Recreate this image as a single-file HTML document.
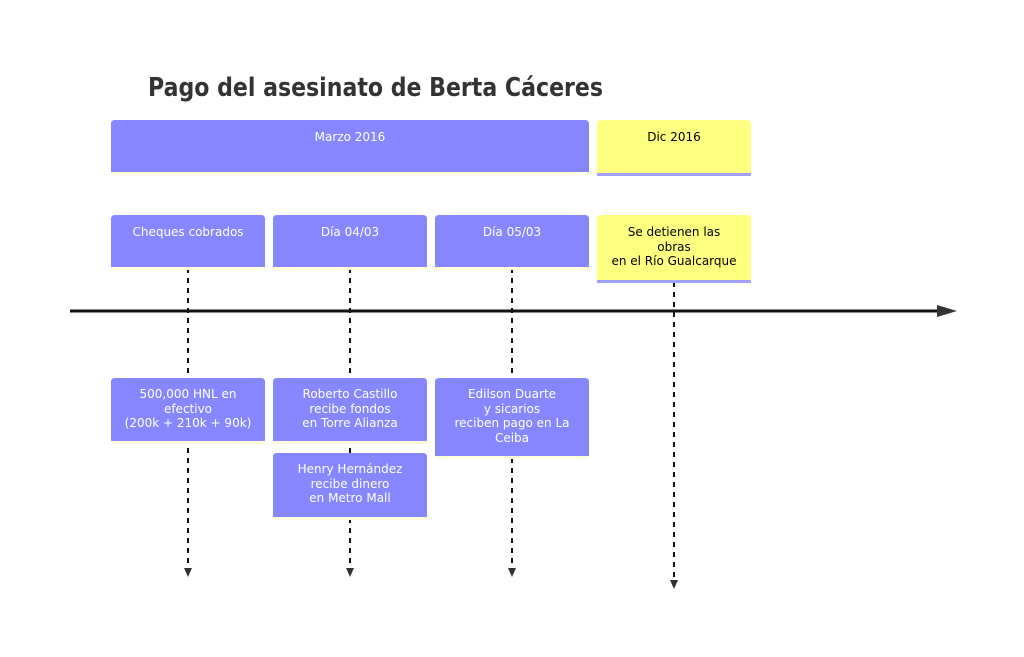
<!DOCTYPE html>
<html><head><meta charset="utf-8"><style>
html,body{margin:0;padding:0;background:#fff;}
svg{display:block;font-family:"DejaVu Sans","Liberation Sans",sans-serif;}
.t{fill:#fff;font-size:12px;text-anchor:middle;font-weight:500;}
.k{fill:#000;font-size:12px;text-anchor:middle;font-weight:500;}
</style></head><body>
<svg width="1024" height="657" viewBox="0 0 1024 657" xmlns="http://www.w3.org/2000/svg">
<text x="148" y="96" textLength="455" lengthAdjust="spacingAndGlyphs" style="font-family:'DejaVu Sans','Liberation Sans',sans-serif;font-weight:bold;font-size:26px;fill:#333">Pago del asesinato de Berta Cáceres</text>

<g stroke="#111" stroke-width="2" stroke-dasharray="5,5" fill="none">
<line x1="188" y1="268" x2="188" y2="570"/>
<line x1="350" y1="268" x2="350" y2="570"/>
<line x1="512" y1="268" x2="512" y2="570"/>
<line x1="674" y1="282" x2="674" y2="582"/>
</g>
<g fill="#333">
<path d="M184,568 L192,568 L188,577 z"/>
<path d="M346,568 L354,568 L350,577 z"/>
<path d="M508,568 L516,568 L512,577 z"/>
<path d="M670,580 L678,580 L674,589 z"/>
</g>

<line x1="70" y1="311" x2="942" y2="311" stroke="#111" stroke-width="3"/>
<path d="M937,305 L957,311 L937,317 z" fill="#333"/>

<path d="M111,173 V124 Q111,120 115,120 H585 Q589,120 589,124 V173 z" fill="#8686ff"/>
<rect x="111" y="172" width="478" height="3" fill="#ffffde"/>
<text class="t" x="350" y="141">Marzo 2016</text>
<path d="M597,174 V124 Q597,120 601,120 H747 Q751,120 751,124 V174 z" fill="#ffff80"/>
<rect x="597" y="173" width="154" height="3" fill="#a0a0ff"/>
<text class="k" x="674" y="141">Dic 2016</text>

<path d="M111,268 V219 Q111,215 115,215 H261 Q265,215 265,219 V268 z" fill="#8686ff"/>
<rect x="111" y="267" width="154" height="3" fill="#ffffde"/>
<text class="t" x="188" y="236">Cheques cobrados</text>
<path d="M273,268 V219 Q273,215 277,215 H423 Q427,215 427,219 V268 z" fill="#8686ff"/>
<rect x="273" y="267" width="154" height="3" fill="#ffffde"/>
<text class="t" x="350" y="236">Día 04/03</text>
<path d="M435,268 V219 Q435,215 439,215 H585 Q589,215 589,219 V268 z" fill="#8686ff"/>
<rect x="435" y="267" width="154" height="3" fill="#ffffde"/>
<text class="t" x="512" y="236">Día 05/03</text>
<path d="M597,281 V219 Q597,215 601,215 H747 Q751,215 751,219 V281 z" fill="#ffff80"/>
<rect x="597" y="280" width="154" height="3" fill="#a0a0ff"/>
<text class="k" x="674" y="236">Se detienen las</text>
<text class="k" x="674" y="251">obras</text>
<text class="k" x="674" y="265">en el Río Gualcarque</text>

<path d="M111,442 V382 Q111,378 115,378 H261 Q265,378 265,382 V442 z" fill="#8686ff"/>
<rect x="111" y="441" width="154" height="3" fill="#ffffde"/>
<text class="t" x="188" y="398">500,000 HNL en</text>
<text class="t" x="188" y="413">efectivo</text>
<text class="t" x="188" y="427">(200k + 210k + 90k)</text>

<path d="M273,442 V382 Q273,378 277,378 H423 Q427,378 427,382 V442 z" fill="#8686ff"/>
<rect x="273" y="441" width="154" height="3" fill="#ffffde"/>
<text class="t" x="350" y="398">Roberto Castillo</text>
<text class="t" x="350" y="413">recibe fondos</text>
<text class="t" x="350" y="427">en Torre Alianza</text>

<path d="M273,518 V457 Q273,453 277,453 H423 Q427,453 427,457 V518 z" fill="#8686ff"/>
<rect x="273" y="517" width="154" height="3" fill="#ffffde"/>
<text class="t" x="350" y="473">Henry Hernández</text>
<text class="t" x="350" y="488">recibe dinero</text>
<text class="t" x="350" y="502">en Metro Mall</text>

<path d="M435,457 V382 Q435,378 439,378 H585 Q589,378 589,382 V457 z" fill="#8686ff"/>
<rect x="435" y="456" width="154" height="3" fill="#ffffde"/>
<text class="t" x="512" y="398">Edilson Duarte</text>
<text class="t" x="512" y="413">y sicarios</text>
<text class="t" x="512" y="427">reciben pago en La</text>
<text class="t" x="512" y="442">Ceiba</text>
</svg>
</body></html>
